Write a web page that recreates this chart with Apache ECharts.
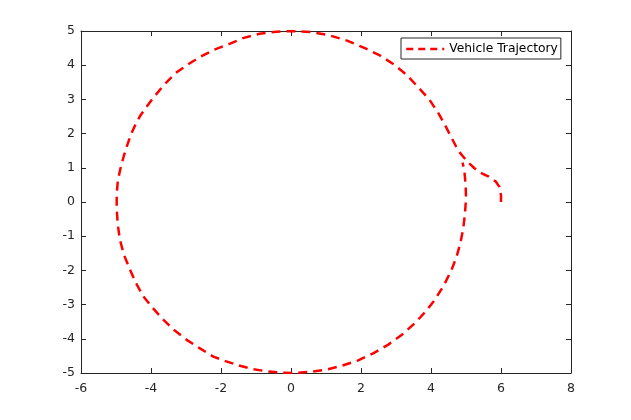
<!DOCTYPE html>
<html>
<head>
<meta charset="utf-8">
<script src="https://cdn.jsdelivr.net/npm/echarts@6/dist/echarts.min.js"></script>
<style>html,body{margin:0;padding:0;background:#fff;}#c{width:631px;height:420px;}</style>
</head>
<body>
<div id="c"></div>
<script>
const seriesName = 'Vehicle Trajectory';
const xTicks = [-6, -4, -2, 0, 2, 4, 6, 8];
const yTicks = [-5, -4, -3, -2, -1, 0, 1, 2, 3, 4, 5];
const trajX = [6.0, 6.0, 5.95, 5.85, 5.65, 5.45, 5.25, 5.07, 4.9,
  4.78, 4.59, 4.4, 4.21, 3.95, 3.64, 3.3, 2.97, 2.55, 2.11, 1.6, 1.07, 0.55, 0.0,
  -0.5, -0.9, -1.35, -1.74, -2.2, -2.6, -2.95, -3.31, -3.65, -3.93, -4.15, -4.31, -4.45, -4.57, -4.7, -4.79, -4.88, -4.95, -4.98,
  -4.98, -4.95, -4.89, -4.77, -4.6, -4.43, -4.22, -3.95, -3.65, -3.33, -2.98, -2.6, -2.22, -1.85, -1.46, -1.08, -0.69, -0.3, 0.1,
  0.5, 0.97, 1.45, 1.92, 2.36, 2.78, 3.17, 3.54, 3.85, 4.11, 4.37, 4.59, 4.73, 4.84, 4.92, 4.97, 5.0, 4.99, 4.95, 4.9];
const trajY = [0.0, 0.2, 0.45, 0.6, 0.74, 0.84, 0.98, 1.15, 1.35,
  1.5, 1.87, 2.25, 2.6, 3.0, 3.35, 3.72, 4.0, 4.28, 4.5, 4.72, 4.88, 4.97, 5.0,
  4.97, 4.92, 4.8, 4.63, 4.45, 4.24, 4.02, 3.76, 3.4, 3.05, 2.75, 2.52, 2.25, 1.98, 1.6, 1.3, 0.95, 0.6, 0.2,
  -0.2, -0.65, -1.1, -1.55, -1.98, -2.37, -2.76, -3.1, -3.44, -3.75, -4.03, -4.28, -4.52, -4.66, -4.79, -4.89, -4.95, -4.99, -5.0,
  -4.97, -4.91, -4.79, -4.63, -4.42, -4.17, -3.88, -3.54, -3.2, -2.86, -2.43, -1.98, -1.6, -1.2, -0.78, -0.35, 0.1, 0.5, 0.95, 1.15];

const axisColor = '#262626';
const font = 'DejaVu Sans';
function xAx(pos, showLabel) {
  return {
    type: 'value', position: pos, min: xTicks[0], max: xTicks[xTicks.length - 1], interval: 2,
    axisLine: { show: true, onZero: false, lineStyle: { color: axisColor, width: 1 } },
    axisTick: { show: true, inside: true, length: 5, lineStyle: { color: axisColor } },
    axisLabel: { show: showLabel, color: axisColor, fontSize: 12.5, fontFamily: font, margin: 9 },
    splitLine: { show: false }
  };
}
function yAx(pos, showLabel) {
  return {
    type: 'value', position: pos, min: yTicks[0], max: yTicks[yTicks.length - 1], interval: 1,
    axisLine: { show: true, onZero: false, lineStyle: { color: axisColor, width: 1 } },
    axisTick: { show: true, inside: true, length: 5, lineStyle: { color: axisColor } },
    axisLabel: { show: showLabel, color: axisColor, fontSize: 12.5, fontFamily: font, margin: 6 },
    splitLine: { show: false }
  };
}
const chart = echarts.init(document.getElementById('c'), null, { renderer: 'canvas' });
chart.setOption({
  animation: false,
  backgroundColor: '#fff',
  grid: { left: 81, right: 60, top: 31, bottom: 47, containLabel: false },
  xAxis: [xAx('bottom', true), xAx('top', false)],
  yAxis: [yAx('left', true), yAx('right', false)],
  legend: {
    data: [seriesName], left: 401, top: 38,
    borderColor: axisColor, borderWidth: 1, backgroundColor: '#fff', borderRadius: 0,
    padding: [5, 3, 4, 4], itemWidth: 38, itemHeight: 12,
    itemStyle: { color: 'rgba(0,0,0,0)', borderColor: 'rgba(0,0,0,0)', borderWidth: 0 },
    lineStyle: { color: '#ff0000', width: 2.5, type: [7, 5], opacity: 1 },
    textStyle: { fontSize: 12.3, color: '#000', fontFamily: font }
  },
  series: [{
    name: seriesName, type: 'line', xAxisIndex: 0, yAxisIndex: 0,
    data: trajX.map((x, i) => [x, trajY[i]]),
    symbol: 'none', showSymbol: false, smooth: false,
    lineStyle: { color: '#ff0000', width: 2.5, type: [9, 6] },
    itemStyle: { color: '#ff0000' }
  }]
});
</script>
</body>
</html>
